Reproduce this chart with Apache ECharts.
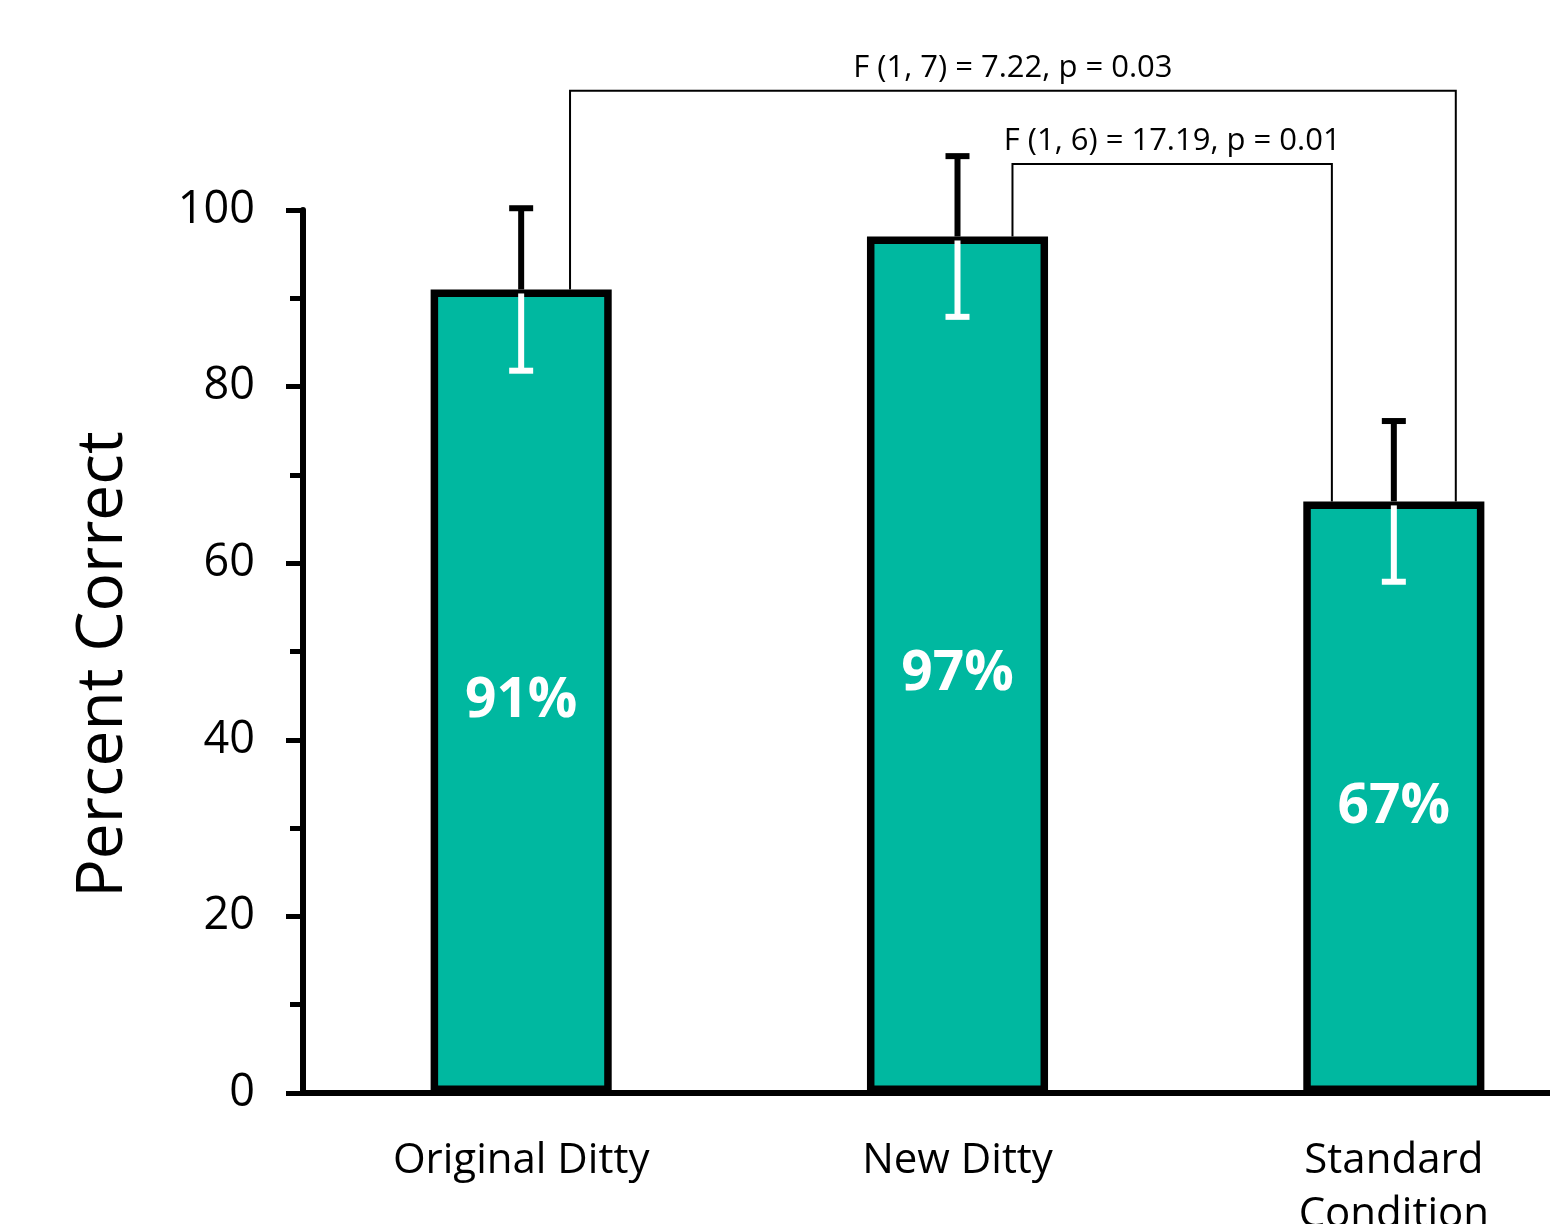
<!DOCTYPE html>
<html>
<head>
<meta charset="utf-8">
<script src="https://cdn.jsdelivr.net/npm/echarts@6/dist/echarts.min.js"></script>
<style>
  html, body { margin: 0; padding: 0; background: #fff; }
  #chart { width: 1550px; height: 1224px; }
</style>
</head>
<body>
<div id="chart"></div>
<script>
// Recognition accuracy per condition (mean percent correct, ± error)
const categories = ['Original Ditty', 'New Ditty', 'Standard\nCondition'];
const percentCorrect = [91, 97, 67];
const errorMargin = [9.2, 9.1, 9.1];

// Pairwise comparisons shown as brackets above the bars
const comparisonFrom = [0, 1];
const comparisonTo = [2, 2];
const comparisonText = ['F (1, 7) = 7.22, p = 0.03', 'F (1, 6) = 17.19, p = 0.01'];

// Y-axis tick values
const yTicks = [0, 20, 40, 60, 80, 100];

// ---- styling ----
const FONT = '"Open Sans", "Noto Sans", sans-serif';
const BAR_COLOR = '#00B8A0';
const bracketLevel = [113.5, 105.2];          // height of each bracket's cross line (axis units)
const bracketEnds = [[0.112, 0.142], [0.126, -0.142]]; // end offsets from bar centres (fraction of band)

const chart = echarts.init(document.getElementById('chart'), null, { renderer: 'canvas' });

function renderErrorBar(params, api) {
  const i = params.dataIndex;
  const v = percentCorrect[i], e = errorMargin[i];
  const top = api.coord([i, v + e]);
  const mid = api.coord([i, v]);
  const low = api.coord([i, v - e]);
  const x = mid[0], cap = 12;
  const black = { stroke: '#000', lineWidth: 6 };
  const white = { stroke: '#fff', lineWidth: 6 };
  return {
    type: 'group',
    children: [
      { type: 'line', shape: { x1: x, y1: mid[1], x2: x, y2: top[1] }, style: black },
      { type: 'line', shape: { x1: x - cap, y1: top[1], x2: x + cap, y2: top[1] }, style: black },
      { type: 'line', shape: { x1: x, y1: mid[1] + 4, x2: x, y2: low[1] }, style: white },
      { type: 'line', shape: { x1: x - cap, y1: low[1], x2: x + cap, y2: low[1] }, style: white }
    ]
  };
}

function renderBracket(params, api) {
  const i = params.dataIndex;
  const band = api.size([1, 0])[0];
  const a = api.coord([comparisonFrom[i], percentCorrect[comparisonFrom[i]]]);
  const b = api.coord([comparisonTo[i], percentCorrect[comparisonTo[i]]]);
  const topY = api.coord([comparisonFrom[i], bracketLevel[i]])[1];
  const x1 = a[0] + band * bracketEnds[i][0];
  const x2 = b[0] + band * bracketEnds[i][1];
  return {
    type: 'group',
    children: [
      {
        type: 'polyline',
        shape: { points: [[x1, a[1]], [x1, topY], [x2, topY], [x2, b[1]]] },
        style: { stroke: '#000', lineWidth: 2, fill: null }
      },
      {
        type: 'text',
        x: (x1 + x2) / 2,
        y: topY - 7,
        style: {
          text: comparisonText[i],
          fill: '#000',
          font: '31px ' + FONT,
          align: 'center',
          verticalAlign: 'bottom'
        }
      }
    ]
  };
}

chart.setOption({
  animation: false,
  backgroundColor: '#fff',
  grid: {
    left: 303, top: 210, bottom: 131, right: -62,
    containLabel: false,
    outerBoundsMode: 'none'
  },
  xAxis: {
    type: 'category',
    data: categories,
    axisLine: { show: true, lineStyle: { color: '#000', width: 6 } },
    axisTick: { show: false },
    axisLabel: {
      color: '#000',
      fontFamily: FONT,
      fontSize: 42,
      lineHeight: 54,
      margin: 41,
      interval: 0
    },
    splitLine: { show: false },
    z: 5
  },
  yAxis: {
    type: 'value',
    min: yTicks[0],
    max: yTicks[yTicks.length - 1],
    interval: yTicks[1] - yTicks[0],
    name: 'Percent Correct',
    nameLocation: 'middle',
    nameRotate: 90,
    nameGap: 167,
    nameTextStyle: { color: '#000', fontFamily: FONT, fontSize: 64, padding: [0, 26, 0, 0] },
    axisLine: { show: true, lineStyle: { color: '#000', width: 6 } },
    axisTick: { show: true, length: 17, lineStyle: { color: '#000', width: 5 } },
    minorTick: { show: true, splitNumber: 2, length: 13, lineStyle: { color: '#000', width: 5 } },
    axisLabel: { color: '#000', fontFamily: FONT, fontSize: 45, margin: 48 },
    splitLine: { show: false },
    z: 5
  },
  series: [
    {
      type: 'bar',
      data: percentCorrect,
      barWidth: '41.5%',
      itemStyle: { color: BAR_COLOR, borderColor: '#000', borderWidth: 7.5 },
      label: {
        show: true,
        position: 'inside',
        offset: [0, 10],
        formatter: '{c}%',
        color: '#fff',
        fontFamily: FONT,
        fontWeight: 'bold',
        fontSize: 55
      },
      z: 2
    },
    {
      type: 'custom',
      data: percentCorrect.map((v, i) => [i, v]),
      renderItem: renderErrorBar,
      clip: false,
      z: 6
    },
    {
      type: 'custom',
      data: comparisonFrom.map((f, i) => [f, bracketLevel[i]]),
      renderItem: renderBracket,
      clip: false,
      z: 6
    }
  ]
});
</script>
</body>
</html>
